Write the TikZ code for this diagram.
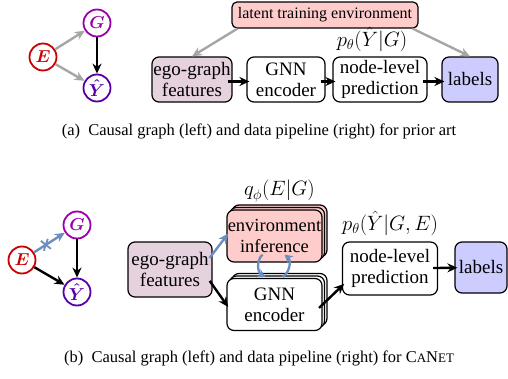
\documentclass[tikz,border=0pt]{standalone}
\usepackage{amsmath}
\usepackage{fontspec}
\setmainfont{Liberation Serif}
\usetikzlibrary{arrows.meta,positioning,shadows}

\definecolor{envred}{HTML}{CC0000}
\definecolor{graphpurple}{HTML}{9900AA}
\definecolor{predindigo}{HTML}{5500AA}
\definecolor{latentpink}{HTML}{FFCCCC}
\definecolor{egomauve}{HTML}{E6D2DE}
\definecolor{labelblue}{HTML}{CCCCFF}
\definecolor{linkblue}{HTML}{6C8EBF}

\begin{document}
\begin{tikzpicture}[x=1pt, y=-1pt,
    var/.style={circle, draw, line width=1.8pt, minimum size=27pt, inner sep=0pt,
        font=\fontsize{19}{19}\selectfont},
    block/.style={draw, rounded corners=7pt, line width=1.2pt, align=center,
        inner sep=0pt, font=\fontsize{19}{21}\selectfont},
    stacked/.style={block, fill=white,
        double copy shadow={shadow xshift=2.5pt, shadow yshift=2.5pt}},
    flow/.style={-{Stealth[length=10pt, width=9pt]}, line width=2.4pt},
    boxflow/.style={flow, shorten <=-5pt, shorten >=-3pt},
    greyflow/.style={flow, draw=black!35},
    blueflow/.style={boxflow, draw=linkblue},
    swap/.style={-{Stealth[length=8pt, width=9pt]}, line width=2.3pt, draw=linkblue},
    mathlabel/.style={font=\fontsize{20}{20}\selectfont},
    caption/.style={font=\fontsize{16.5}{18}\selectfont}
]
    \useasboundingbox (0,0) rectangle (508,379);

    % (a) Causal graph for prior art
    \node[var, draw=envred] (E1) at (43,57) {$\boldsymbol{\color{envred}E}$};
    \node[var, draw=graphpurple] (G1) at (97,23) {$\boldsymbol{\color{graphpurple}G}$};
    \node[var, draw=predindigo] (Y1) at (97,88) {$\boldsymbol{\color{predindigo}\hat{Y}}$};

    \draw[greyflow] (E1) -- (G1);
    \draw[greyflow] (E1) -- (Y1);
    \draw[flow] (G1) -- (Y1);

    % (a) Data pipeline
    \node[block, fill=latentpink, rounded corners=5pt, minimum width=186pt, minimum height=26pt,
        font=\fontsize{16}{18}\selectfont] (latent) at (325,15) {latent training environment};
    \node[block, fill=egomauve, minimum width=80pt, minimum height=45pt] (ego1) at (192,79.5) {ego-graph\\features};
    \node[block, minimum width=78pt, minimum height=45pt] (gnn1) at (286,79.5) {GNN\\encoder};
    \node[block, minimum width=94pt, minimum height=45pt] (pred1) at (380,79.5) {node-level\\prediction};
    \node[block, fill=labelblue, minimum width=56pt, minimum height=45pt] (labels1) at (470,79.5) {labels};
    \node[mathlabel, above=0.8pt of pred1, xshift=-8pt] (ptheta1) {$p_\theta(\hat{Y}|G)$};

    \draw[greyflow] ([xshift=6pt]latent.south west) -- (ego1.north);
    \draw[greyflow] ([xshift=-6pt]latent.south east) -- (labels1.north);
    \draw[boxflow] ([yshift=-2pt]ego1.east) -- ([yshift=-2pt]gnn1.west);
    \draw[boxflow] ([yshift=-2pt]gnn1.east) -- ([yshift=-2pt]pred1.west);
    \draw[boxflow] ([yshift=-2pt]pred1.east) -- ([yshift=-2pt]labels1.west);

    \node[caption] (capa) at (259,131) {(a)\enspace Causal graph (left) and data pipeline (right) for prior art};

    % (b) Causal graph for CaNet
    \node[var, draw=envred] (E2) at (22,260) {$\boldsymbol{\color{envred}E}$};
    \node[var, draw=graphpurple] (G2) at (77,225) {$\boldsymbol{\color{graphpurple}G}$};
    \node[var, draw=predindigo] (Y2) at (77,292) {$\boldsymbol{\color{predindigo}\hat{Y}}$};

    \draw[flow, draw=linkblue] (E2) -- (G2) coordinate[pos=0.38] (cut);
    \draw[flow] (E2) -- (Y2);
    \draw[flow] (G2) -- (Y2);
    % cut mark on the blocked edge
    \draw[linkblue, line width=1.8pt] ([shift={(-5,-4)}]cut) -- ([shift={(5,4)}]cut);
    \draw[linkblue, line width=1.8pt] ([shift={(-2,6)}]cut) -- ([shift={(2,-6)}]cut);

    % (b) Data pipeline
    \node[block, fill=egomauve, minimum width=84pt, minimum height=55pt] (ego2) at (170,269.5) {ego-graph\\features};
    \node[stacked, fill=latentpink, minimum width=95pt, minimum height=52pt,
        font=\fontsize{18.5}{21}\selectfont] (env) at (274.5,236) {environment\\inference};
    \node[stacked, minimum width=95pt, minimum height=52pt] (gnn2) at (274.5,304.5) {GNN\\encoder};
    \node[block, minimum width=95pt, minimum height=53pt] (pred2) at (390,268.5) {node-level\\prediction};
    \node[block, fill=labelblue, minimum width=52pt, minimum height=51pt] (labels2) at (481,267.5) {labels};
    \node[mathlabel, above=4pt of env, xshift=5pt] (qphi) {$q_\phi(E|G)$};
    \node[mathlabel, above=2pt of pred2] (ptheta2) {$p_\theta(\hat{Y}|G,E)$};

    \draw[blueflow] (ego2.20) -- (env.west);
    \draw[boxflow] (ego2.-20) -- (gnn2.west);
    \draw[boxflow] (gnn2.east) -- (pred2.200);
    \draw[boxflow] (pred2) -- (labels2);
    \draw[swap] ([shift={(-12,-8)}]env.south) to[bend right=55] ([shift={(-9,-1)}]gnn2.north);
    \draw[swap] ([shift={(8,-1)}]gnn2.north) to[bend right=55] ([shift={(10,-8)}]env.south);

    \node[caption] (capb) at (259,358) {(b)\enspace Causal graph (left) and data pipeline (right) for
        C{\fontsize{13}{14}\selectfont A}N{\fontsize{13}{14}\selectfont ET}};
\end{tikzpicture}
\end{document}
